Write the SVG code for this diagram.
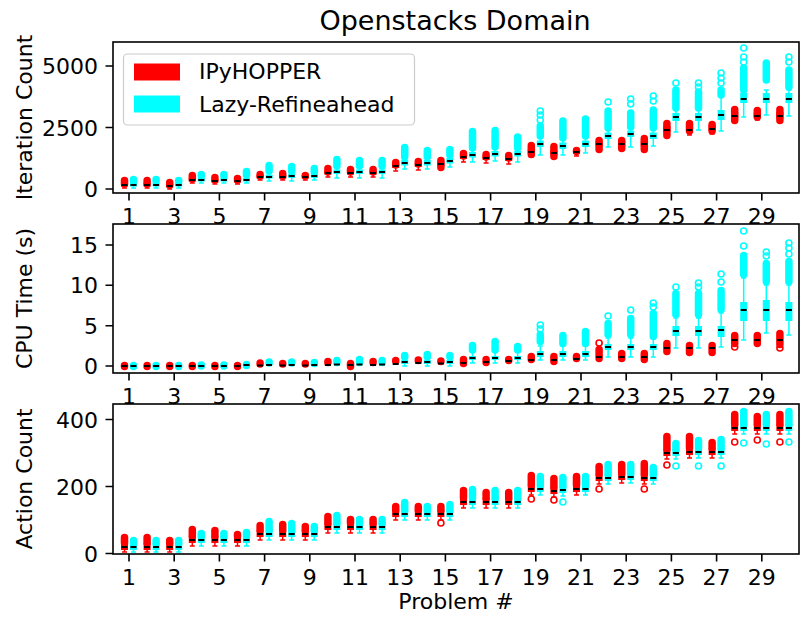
<svg xmlns="http://www.w3.org/2000/svg" width="804" height="620" viewBox="0 0 804 620">
<style>
text{font-family:"DejaVu Sans","Liberation Sans",sans-serif;fill:#000}
.t{font-size:22px}
.tm{font-size:22px;text-anchor:middle}
.te{font-size:22px;text-anchor:end}
.sp{fill:none;stroke:#000;stroke-width:1.6}
.tk{fill:none;stroke:#000;stroke-width:1.6}
.r{stroke:#ff0000;fill:none}
.c{stroke:#00ffff;fill:none}
.w{stroke-width:1.5}
.bx{stroke-width:7}
.bl{stroke-width:7.5;stroke-linecap:round}
.o{stroke-width:1.6;fill:none}
.md{stroke:#000;stroke-width:2.2;fill:none}
</style>
<rect width="804" height="620" fill="#fff"/>
<text id="title" x="455" y="30" style="font-size:27px;text-anchor:middle">Openstacks Domain</text>

<g id="panel1">
<g id="p1-red" class="r">
<path class="w" d="M124.5 181V188m-2.5 0h5M147.1 181V188m-2.5 0h5M169.7 182V189m-2.5 0h5M192.3 176V183m-2.5 0h5M214.9 177V184m-2.5 0h5M237.5 177V184m-2.5 0h5M260.1 173V180m-2.5 0h5M282.7 173V180m-2.5 0h5M305.3 173V180m-2.5 0h5M327.9 169V177m-2.5 0h5M350.5 169V177m-2.5 0h5M373.1 169V177m-2.5 0h5M395.7 162V171m-2.5 0h5M418.3 161V170m-2.5 0h5M440.9 160V169m-2.5 0h5M463.5 152V162m-2.5 0h5M486.1 153V163m-2.5 0h5M508.7 155V164m-2.5 0h5M531.3 147V157m-2.5 0h5M553.9 148V158m-2.5 0h5M576.5 148V156m-2.5 0h5M599.1 139V150m-2.5 0h5M621.7 139V149m-2.5 0h5M644.3 139V150m-2.5 0h5M666.9 123V136m-2.5 0h5M689.5 123V135m-2.5 0h5M712.1 123V134m-2.5 0h5M734.7 109V122m-2.5 0h5M757.3 109V120m-2.5 0h5M779.9 109V122m-2.5 0h5"/>
<path class="bx" d="M124.5 186.5V183M147.1 186.5V183M169.7 187.5V184M192.3 181.5V178M214.9 182.5V179M237.5 182.5V179M260.1 178.5V175M282.7 178.5V175M305.3 178.5V175M327.9 174.5V171M350.5 174.5V171M373.1 174.5V171M395.7 168V163.5M418.3 167V162.5M440.9 166V161.5M463.5 159V154.5M486.1 160V155.5M508.7 161V156.5M531.3 154V149M553.9 155V150M576.5 154V149.5M599.1 146V141M621.7 146V141M644.3 146V141M666.9 132V126M689.5 132V126M712.1 131V125M734.7 118V112M757.3 118V112M779.9 118V112"/>
<path class="bl" d="M124.5 184V180.5M147.1 184V180.5M169.7 185V182.5M192.3 179V175.5M214.9 180V177.5M237.5 180V178.5M260.1 176V174.5M282.7 176V173.5M305.3 176V175.5M327.9 172V168.5M350.5 172V169.5M373.1 172V169.5M395.7 165V162.5M418.3 164V161.5M440.9 167.5V160.5M463.5 156V153.5M486.1 157V154.5M508.7 158V155.5M531.3 154.5V145.5M553.9 156.5V146.5M576.5 151.5V150.5M599.1 149.5V140.5M621.7 148.5V140.5M644.3 149.5V138.5M666.9 135.5V123.5M689.5 131V123.5M712.1 131V124.5M734.7 120.5V109.5M757.3 117V110.5M779.9 120.5V109.5"/>
</g>
<g id="p1-cyan" class="c">
<path class="w" d="M133.5 181V188m-2.5 0h5M156.1 181V188m-2.5 0h5M178.7 181V188m-2.5 0h5M201.3 176V183m-2.5 0h5M223.9 176V183m-2.5 0h5M246.5 175V183m-2.5 0h5M269.1 171V181m-2.5 0h5M291.7 171V181m-2.5 0h5M314.3 172V180m-2.5 0h5M336.9 166V178m-2.5 0h5M359.5 166V178m-2.5 0h5M382.1 166V178m-2.5 0h5M404.7 157V169m-2.5 0h5M427.3 157V169m-2.5 0h5M449.9 155V167m-2.5 0h5M472.5 148V162m-2.5 0h5M495.1 147V161m-2.5 0h5M517.7 148V162m-2.5 0h5M540.3 136V155m-2.5 0h5M537.8 136h5M562.9 138V155m-2.5 0h5M560.4 138h5M585.5 136V153m-2.5 0h5M583 136h5M608.1 128V147m-2.5 0h5M605.6 128h5M630.7 127V147m-2.5 0h5M628.2 127h5M653.3 128V146m-2.5 0h5M650.8 128h5M675.9 108V132m-2.5 0h5M673.4 108h5M698.5 108V130m-2.5 0h5M696 108h5M721.1 95V131m-2.5 0h5M718.6 95h5M743.7 90V117m-2.5 0h5M741.2 90h5M766.3 90V115m-2.5 0h5M763.8 90h5M788.9 90V116m-2.5 0h5M786.4 90h5"/>
<path class="bx" d="M133.5 186.5V183M156.1 186.5V183M178.7 186.5V183M201.3 181.5V178M223.9 181.5V178M246.5 181.5V178M269.1 178.5V174.5M291.7 178V173.5M314.3 178V173.5M336.9 174V169.5M359.5 174V169.5M382.1 174V169.5M404.7 165.5V160M427.3 165.5V160M449.9 163.5V158M472.5 157.5V152M495.1 156.5V151M517.7 156.5V151M540.3 147V140.5M562.9 149V142.5M585.5 147V140.5M608.1 139V132.5M630.7 137V130.5M653.3 139V132.5M675.9 121V113M698.5 121V113M721.1 120V110M743.7 103V93M766.3 103V93M788.9 103V93"/>
<path class="bl" d="M133.5 181V179.5M156.1 181V179.5M178.7 181V180.5M201.3 176V174.5M223.9 176V174.5M246.5 175V171.5M269.1 171V165.5M291.7 171V166.5M314.3 172V168.5M336.9 166V159.5M359.5 166V160.5M382.1 166V160.5M404.7 157V147.5M427.3 157V150.5M449.9 155V149.5M472.5 148V131.5M495.1 147V130.5M517.7 148V137M540.3 136V126M562.9 138V121M585.5 136V119M608.1 128V111M630.7 127V113M653.3 128V110M675.9 108V90M698.5 108V92M721.1 95V90M743.7 90V68M766.3 80V63M788.9 87V70"/>
<g class="o"><circle cx="540.3" cy="111" r="3"/><circle cx="540.3" cy="115" r="3"/><circle cx="540.3" cy="120" r="3"/><circle cx="608.1" cy="102" r="3"/><circle cx="630.7" cy="99" r="3"/><circle cx="630.7" cy="104" r="3"/><circle cx="653.3" cy="96" r="3"/><circle cx="653.3" cy="101" r="3"/><circle cx="675.9" cy="83" r="3"/><circle cx="698.5" cy="83" r="3"/><circle cx="698.5" cy="87" r="3"/><circle cx="721.1" cy="73" r="3"/><circle cx="721.1" cy="78" r="3"/><circle cx="721.1" cy="83" r="3"/><circle cx="743.7" cy="48" r="3"/><circle cx="743.7" cy="57" r="3"/><circle cx="743.7" cy="62" r="3"/><circle cx="788.9" cy="57" r="3"/><circle cx="788.9" cy="62" r="3"/></g>
</g>
<path class="md" d="M121.5 185h6M130.5 185h6M144.1 185h6M153.1 185h6M166.7 186h6M175.7 185h6M189.3 180h6M198.3 180h6M211.9 181h6M220.9 180h6M234.5 181h6M243.5 180h6M257.1 177h6M266.1 177h6M279.7 177h6M288.7 176h6M302.3 177h6M311.3 176h6M324.9 173h6M333.9 172h6M347.5 173h6M356.5 172h6M370.1 173h6M379.1 172h6M392.7 166h6M401.7 163h6M415.3 165h6M424.3 163h6M437.9 164h6M446.9 161h6M460.5 157h6M469.5 155h6M483.1 158h6M492.1 154h6M505.7 159h6M514.7 154h6M528.3 152h6M537.3 144h6M550.9 153h6M559.9 146h6M573.5 152h6M582.5 144h6M596.1 144h6M605.1 136h6M618.7 144h6M627.7 134h6M641.3 144h6M650.3 136h6M663.9 130h6M672.9 117h6M686.5 130h6M695.5 117h6M709.1 129h6M718.1 115h6M731.7 116h6M740.7 99h6M754.3 116h6M763.3 99h6M776.9 116h6M785.9 99h6"/>
<rect class="sp" x="113" y="42" width="686" height="151"/>
<path class="tk" d="M105.5 189H113M105.5 127.5H113M105.5 66H113M129 193v7.5M174.2 193v7.5M219.4 193v7.5M264.6 193v7.5M309.8 193v7.5M355 193v7.5M400.2 193v7.5M445.4 193v7.5M490.6 193v7.5M535.8 193v7.5M581 193v7.5M626.2 193v7.5M671.4 193v7.5M716.6 193v7.5M761.8 193v7.5"/>
<text class="te" x="98" y="197">0</text><text class="te" x="98" y="135.5">2500</text><text class="te" x="98" y="74">5000</text>
<text class="tm" x="129" y="224">1</text><text class="tm" x="174.2" y="224">3</text><text class="tm" x="219.4" y="224">5</text><text class="tm" x="264.6" y="224">7</text><text class="tm" x="309.8" y="224">9</text><text class="tm" x="355" y="224">11</text><text class="tm" x="400.2" y="224">13</text><text class="tm" x="445.4" y="224">15</text><text class="tm" x="490.6" y="224">17</text><text class="tm" x="535.8" y="224">19</text><text class="tm" x="581" y="224">21</text><text class="tm" x="626.2" y="224">23</text><text class="tm" x="671.4" y="224">25</text><text class="tm" x="716.6" y="224">27</text><text class="tm" x="761.8" y="224">29</text>
<text class="tm" transform="translate(32,117.5) rotate(-90)">Iteration Count</text>
<g id="legend">
<rect x="123.5" y="54" width="291" height="71" rx="4" fill="#fff" fill-opacity="0.8" stroke="#cccccc" stroke-width="1.2"/>
<rect x="134" y="63.5" width="46" height="17" fill="#ff0000"/>
<rect x="134" y="95.5" width="46" height="17" fill="#00ffff"/>
<text class="t" x="199" y="79">IPyHOPPER</text>
<text class="t" x="199" y="112">Lazy-Refineahead</text>
</g>
</g>

<g id="panel2">
<g id="p2-red" class="r">
<path class="bl" d="M124.5 366.5V365.5M147.1 366.5V365.5M169.7 366.5V365.5M192.3 366.5V365.5M214.9 366.5V365.5M237.5 366.5V365.5M260.1 364V363M282.7 364V363.5M305.3 364V363.5M327.9 362.5V361.5M350.5 366.5V363.5M373.1 362.5V361.5M395.7 361V360.5M418.3 360.5V360M440.9 361.5V361M463.5 363.5V359.5M486.1 362.5V359.5M508.7 360.5V359.5M531.3 359.5V356.5M553.9 361.5V356.5M576.5 358.5V356.5M599.1 358.5V349.5M621.7 358.5V353.5M644.3 359.5V353.5M666.9 351.5V343.5M689.5 352.5V345.5M712.1 352.5V345.5M734.7 343.5V335.5M757.3 343.5V335.5M779.9 344.5V333.5"/>
<g class="o"><circle cx="599.1" cy="343" r="3"/><circle cx="734.7" cy="347" r="3"/><circle cx="779.9" cy="348" r="3"/></g>
</g>
<g id="p2-cyan" class="c">
<path class="w" d="M404.7 357V366m-2.5 0h5M427.3 357V366m-2.5 0h5M449.9 357V366m-2.5 0h5M472.5 353V363m-2.5 0h5M495.1 353V363m-2.5 0h5M517.7 353V363m-2.5 0h5M540.3 346V360m-2.5 0h5M537.8 346h5M562.9 346V360m-2.5 0h5M560.4 346h5M585.5 346V360m-2.5 0h5M583 346h5M608.1 338V357m-2.5 0h5M605.6 338h5M630.7 338V357m-2.5 0h5M628.2 338h5M653.3 338V357m-2.5 0h5M650.8 338h5M675.9 318V348m-2.5 0h5M673.4 318h5M698.5 318V348m-2.5 0h5M696 318h5M721.1 313V347m-2.5 0h5M718.6 313h5M743.7 278V340m-2.5 0h5M741.2 278h5M766.3 285V333m-2.5 0h5M763.8 285h5M788.9 285V335m-2.5 0h5M786.4 285h5"/>
<path class="bx" d="M404.7 364V360M427.3 364V360M449.9 364V360M472.5 360V356M495.1 360V356M517.7 360V356M540.3 357V351M562.9 357V351M585.5 357V351M608.1 350V344M630.7 350V344M653.3 350V344M675.9 336V326M698.5 336V326M721.1 337V326M743.7 321V302M766.3 321V300M788.9 321V302"/>
<path class="bl" d="M133.5 366.5V365.5M156.1 366.5V365.5M178.7 366.5V365.5M201.3 366V365M223.9 366V365M246.5 365.5V364.5M269.1 363V362M291.7 363V362M314.3 363.5V362.5M336.9 362.5V360.5M359.5 362.5V359.5M382.1 362.5V360.5M404.7 357V355.5M427.3 357V354.5M449.9 357V355.5M472.5 350V345.5M495.1 350V341.5M517.7 350V346.5M540.3 341.5V334.5M562.9 343.5V335.5M585.5 343.5V331.5M608.1 334.5V323.5M630.7 334.5V318.5M653.3 336.5V313.5M675.9 314.5V293.5M698.5 314.5V293.5M721.1 309.5V290.5M743.7 274.5V255.5M766.3 281.5V263.5M788.9 281.5V261.5"/>
<g class="o"><circle cx="540.3" cy="325" r="3"/><circle cx="540.3" cy="329" r="3"/><circle cx="608.1" cy="316" r="3"/><circle cx="630.7" cy="310" r="3"/><circle cx="653.3" cy="303" r="3"/><circle cx="653.3" cy="307" r="3"/><circle cx="675.9" cy="287" r="3"/><circle cx="698.5" cy="283" r="3"/><circle cx="698.5" cy="287" r="3"/><circle cx="721.1" cy="274" r="3"/><circle cx="721.1" cy="282" r="3"/><circle cx="743.7" cy="231" r="3"/><circle cx="743.7" cy="246" r="3"/><circle cx="766.3" cy="252" r="3"/><circle cx="766.3" cy="256" r="3"/><circle cx="788.9" cy="243" r="3"/><circle cx="788.9" cy="248" r="3"/><circle cx="788.9" cy="254" r="3"/></g>
</g>
<path class="md" d="M121.5 366h6M130.5 366h6M144.1 366h6M153.1 366h6M166.7 366h6M175.7 366h6M189.3 366h6M198.3 366h6M211.9 366h6M220.9 366h6M234.5 366h6M243.5 365h6M257.1 365.5h6M266.1 365h6M279.7 365.5h6M288.7 365h6M302.3 365.5h6M311.3 365h6M324.9 365h6M333.9 364.5h6M347.5 365h6M356.5 364.5h6M370.1 365h6M379.1 364.5h6M392.7 364h6M401.7 362h6M415.3 363h6M424.3 362h6M437.9 363.5h6M446.9 362h6M460.5 363h6M469.5 358h6M483.1 362h6M492.1 358h6M505.7 361h6M514.7 358h6M528.3 360h6M537.3 354h6M550.9 360h6M559.9 354h6M573.5 359h6M582.5 354h6M596.1 357h6M605.1 347h6M618.7 357h6M627.7 347h6M641.3 357h6M650.3 347h6M663.9 348h6M672.9 331h6M686.5 348h6M695.5 331h6M709.1 348h6M718.1 330h6M731.7 340h6M740.7 310h6M754.3 340h6M763.3 310h6M776.9 340h6M785.9 310h6"/>
<rect class="sp" x="113" y="224" width="686" height="149"/>
<path class="tk" d="M105.5 366H113M105.5 325.7H113M105.5 285.3H113M105.5 245H113M129 373v7.5M174.2 373v7.5M219.4 373v7.5M264.6 373v7.5M309.8 373v7.5M355 373v7.5M400.2 373v7.5M445.4 373v7.5M490.6 373v7.5M535.8 373v7.5M581 373v7.5M626.2 373v7.5M671.4 373v7.5M716.6 373v7.5M761.8 373v7.5"/>
<text class="te" x="98" y="374">0</text><text class="te" x="98" y="333.7">5</text><text class="te" x="98" y="293.3">10</text><text class="te" x="98" y="253">15</text>
<text class="tm" x="129" y="404">1</text><text class="tm" x="174.2" y="404">3</text><text class="tm" x="219.4" y="404">5</text><text class="tm" x="264.6" y="404">7</text><text class="tm" x="309.8" y="404">9</text><text class="tm" x="355" y="404">11</text><text class="tm" x="400.2" y="404">13</text><text class="tm" x="445.4" y="404">15</text><text class="tm" x="490.6" y="404">17</text><text class="tm" x="535.8" y="404">19</text><text class="tm" x="581" y="404">21</text><text class="tm" x="626.2" y="404">23</text><text class="tm" x="671.4" y="404">25</text><text class="tm" x="716.6" y="404">27</text><text class="tm" x="761.8" y="404">29</text>
<text class="tm" transform="translate(32,298.5) rotate(-90)">CPU Time (s)</text>
</g>

<g id="panel3">
<g id="p3-red" class="r">
<path class="w" d="M124.5 540V552m-2.5 0h5M147.1 540V552m-2.5 0h5M169.7 540V552m-2.5 0h5M192.3 533V546m-2.5 0h5M214.9 533V546m-2.5 0h5M237.5 533V546m-2.5 0h5M260.1 527V540m-2.5 0h5M282.7 527V540m-2.5 0h5M305.3 527V540m-2.5 0h5M327.9 520V533m-2.5 0h5M350.5 520V533m-2.5 0h5M373.1 520V533m-2.5 0h5M395.7 507V520m-2.5 0h5M418.3 507V520m-2.5 0h5M440.9 507V520m-2.5 0h5M463.5 495V508m-2.5 0h5M486.1 495V508m-2.5 0h5M508.7 495V508m-2.5 0h5M531.3 482V495m-2.5 0h5M553.9 484V497m-2.5 0h5M576.5 482V495m-2.5 0h5M599.1 471V484m-2.5 0h5M621.7 470V483m-2.5 0h5M644.3 471V484m-2.5 0h5M666.9 446V459m-2.5 0h5M689.5 445V458m-2.5 0h5M712.1 445V458m-2.5 0h5M734.7 421V434m-2.5 0h5M757.3 421V434m-2.5 0h5M779.9 421V434m-2.5 0h5"/>
<path class="bx" d="M124.5 550V543M147.1 550V543M169.7 550V543M192.3 543V536M214.9 543V536M237.5 543V536M260.1 537V530M282.7 537V530M305.3 537V530M327.9 530V523M350.5 530V523M373.1 530V523M395.7 517V510M418.3 517V510M440.9 517V510M463.5 505V498M486.1 505V498M508.7 505V498M531.3 492V485M553.9 494V487M576.5 492V485M599.1 481V474M621.7 480V473M644.3 481V474M666.9 456V449M689.5 455V448M712.1 455V448M734.7 431V424M757.3 431V424M779.9 431V424"/>
<path class="bl" d="M124.5 543V537.5M147.1 543V537.5M169.7 543V540.5M192.3 536V529.5M214.9 536V530.5M237.5 536V534.5M260.1 530V525.5M282.7 530V524.5M305.3 530V526.5M327.9 523V516.5M350.5 523V519.5M373.1 523V519.5M395.7 510V506.5M418.3 510V506.5M440.9 510V506.5M463.5 498V490.5M486.1 498V492.5M508.7 498V492.5M531.3 485V475.5M553.9 487V478.5M576.5 485V476.5M599.1 474V466.5M621.7 473V464.5M644.3 474V463.5M666.9 449V436.5M689.5 448V436.5M712.1 448V442.5M734.7 424V414.5M757.3 424V416.5M779.9 424V414.5"/>
<g class="o"><circle cx="440.9" cy="523" r="3"/><circle cx="531.3" cy="499" r="3"/><circle cx="553.9" cy="500" r="3"/><circle cx="599.1" cy="489" r="3"/><circle cx="644.3" cy="489" r="3"/><circle cx="666.9" cy="465" r="3"/><circle cx="734.7" cy="442" r="3"/><circle cx="757.3" cy="440" r="3"/><circle cx="779.9" cy="442" r="3"/></g>
</g>
<g id="p3-cyan" class="c">
<path class="w" d="M133.5 540V552m-2.5 0h5M156.1 540V552m-2.5 0h5M178.7 540V552m-2.5 0h5M201.3 533V546m-2.5 0h5M223.9 533V546m-2.5 0h5M246.5 533V546m-2.5 0h5M269.1 527V540m-2.5 0h5M291.7 527V540m-2.5 0h5M314.3 527V540m-2.5 0h5M336.9 520V533m-2.5 0h5M359.5 520V533m-2.5 0h5M382.1 520V533m-2.5 0h5M404.7 507V520m-2.5 0h5M427.3 507V520m-2.5 0h5M449.9 507V520m-2.5 0h5M472.5 495V508m-2.5 0h5M495.1 495V508m-2.5 0h5M517.7 495V508m-2.5 0h5M540.3 482V495m-2.5 0h5M562.9 483V496m-2.5 0h5M585.5 482V495m-2.5 0h5M608.1 471V484m-2.5 0h5M630.7 470V483m-2.5 0h5M653.3 471V484m-2.5 0h5M675.9 446V459m-2.5 0h5M698.5 445V458m-2.5 0h5M721.1 445V458m-2.5 0h5M743.7 421V434m-2.5 0h5M766.3 421V434m-2.5 0h5M788.9 421V434m-2.5 0h5"/>
<path class="bx" d="M133.5 550V543M156.1 550V543M178.7 550V543M201.3 543V536M223.9 543V536M246.5 543V536M269.1 537V530M291.7 537V530M314.3 537V530M336.9 530V523M359.5 530V523M382.1 530V523M404.7 517V510M427.3 517V510M449.9 517V510M472.5 505V498M495.1 505V498M517.7 505V498M540.3 492V485M562.9 493V486M585.5 492V485M608.1 481V474M630.7 480V473M653.3 481V474M675.9 456V449M698.5 455V448M721.1 455V448M743.7 431V424M766.3 431V424M788.9 431V424"/>
<path class="bl" d="M133.5 543V540.5M156.1 543V540.5M178.7 543V540.5M201.3 536V533.5M223.9 536V533.5M246.5 536V532.5M269.1 530V521.5M291.7 530V523.5M314.3 530V526.5M336.9 523V515.5M359.5 523V519.5M382.1 523V519.5M404.7 510V502.5M427.3 510V506.5M449.9 510V504.5M472.5 498V489.5M495.1 498V490.5M517.7 498V490.5M540.3 485V476.5M562.9 486V477.5M585.5 485V476.5M608.1 474V464.5M630.7 473V464.5M653.3 474V467.5M675.9 449V443.5M698.5 448V440.5M721.1 448V439.5M743.7 424V411.5M766.3 424V414.5M788.9 424V411.5"/>
<g class="o"><circle cx="562.9" cy="502" r="3"/><circle cx="675.9" cy="466" r="3"/><circle cx="698.5" cy="466" r="3"/><circle cx="721.1" cy="466" r="3"/><circle cx="743.7" cy="443" r="3"/><circle cx="766.3" cy="444" r="3"/><circle cx="788.9" cy="442" r="3"/></g>
</g>
<path class="md" d="M121.5 547h6M130.5 547h6M144.1 547h6M153.1 547h6M166.7 547h6M175.7 547h6M189.3 540h6M198.3 540h6M211.9 540h6M220.9 540h6M234.5 540h6M243.5 540h6M257.1 534h6M266.1 534h6M279.7 534h6M288.7 534h6M302.3 534h6M311.3 534h6M324.9 527h6M333.9 527h6M347.5 527h6M356.5 527h6M370.1 527h6M379.1 527h6M392.7 514h6M401.7 514h6M415.3 514h6M424.3 514h6M437.9 514h6M446.9 514h6M460.5 502h6M469.5 502h6M483.1 502h6M492.1 502h6M505.7 502h6M514.7 502h6M528.3 489h6M537.3 489h6M550.9 491h6M559.9 490h6M573.5 489h6M582.5 489h6M596.1 478h6M605.1 478h6M618.7 477h6M627.7 477h6M641.3 478h6M650.3 478h6M663.9 453h6M672.9 453h6M686.5 452h6M695.5 452h6M709.1 452h6M718.1 452h6M731.7 428h6M740.7 428h6M754.3 428h6M763.3 428h6M776.9 428h6M785.9 428h6"/>
<rect class="sp" x="113" y="404" width="686" height="150"/>
<path class="tk" d="M105.5 553.5H113M105.5 486.5H113M105.5 419.5H113M129 554v7.5M174.2 554v7.5M219.4 554v7.5M264.6 554v7.5M309.8 554v7.5M355 554v7.5M400.2 554v7.5M445.4 554v7.5M490.6 554v7.5M535.8 554v7.5M581 554v7.5M626.2 554v7.5M671.4 554v7.5M716.6 554v7.5M761.8 554v7.5"/>
<text class="te" x="98" y="561.5">0</text><text class="te" x="98" y="494.5">200</text><text class="te" x="98" y="427.5">400</text>
<text class="tm" x="129" y="585">1</text><text class="tm" x="174.2" y="585">3</text><text class="tm" x="219.4" y="585">5</text><text class="tm" x="264.6" y="585">7</text><text class="tm" x="309.8" y="585">9</text><text class="tm" x="355" y="585">11</text><text class="tm" x="400.2" y="585">13</text><text class="tm" x="445.4" y="585">15</text><text class="tm" x="490.6" y="585">17</text><text class="tm" x="535.8" y="585">19</text><text class="tm" x="581" y="585">21</text><text class="tm" x="626.2" y="585">23</text><text class="tm" x="671.4" y="585">25</text><text class="tm" x="716.6" y="585">27</text><text class="tm" x="761.8" y="585">29</text>
<text class="tm" transform="translate(32,479) rotate(-90)">Action Count</text>
<text class="tm" x="456" y="609">Problem #</text>
</g>
</svg>
